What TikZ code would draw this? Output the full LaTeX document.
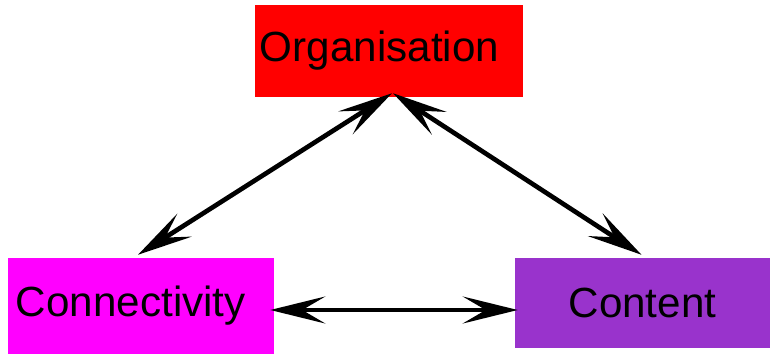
\documentclass[tikz,border=0pt]{standalone}
\usepackage{fontspec}
\setmainfont{Liberation Sans}
\usepackage{xcolor}
\usetikzlibrary{arrows.meta}
\usetikzlibrary{calc}
\definecolor{orgred}{HTML}{FF0000}
\definecolor{connmagenta}{HTML}{FF00FF}
\definecolor{contpurple}{HTML}{9933CC}

\begin{document}
\begin{tikzpicture}[x=0.03cm,y=-0.03cm,
        topic/.style={rectangle, inner ysep=0pt, font=\fontsize{36}{40}\selectfont},
        link/.style={line width=0.14cm,
            {Stealth[length=1.65cm,width=0.81cm,inset=0.69cm]}-{Stealth[length=1.65cm,width=0.81cm,inset=0.69cm]}}]
        \useasboundingbox (0,0) rectangle (771,354);
        \node[topic, fill=orgred, minimum height=2.76cm, inner xsep=0.15cm, text width=7.74cm, align=left] (org) at (389,51) {Organisation};
        \node[topic, fill=connmagenta, minimum height=2.88cm, inner xsep=0.24cm, text width=7.5cm, align=left] (conn) at (141,306) {Connectivity};
        \node[topic, fill=contpurple, minimum height=2.7cm, minimum width=7.65cm] (cont) at (642.5,303) {Content};
        \draw[link] ($(conn.north)+(-3,-3)$) -- ($(org.south)+(3,-4)$);
        \draw[link] ($(org.south)+(4,-4)$) -- ($(cont.north)+(-1,-3)$);
        \draw[link] ($(conn.east)+(-4,4)$) -- ($(cont.west)+(3,7)$);
    \end{tikzpicture}
\end{document}
